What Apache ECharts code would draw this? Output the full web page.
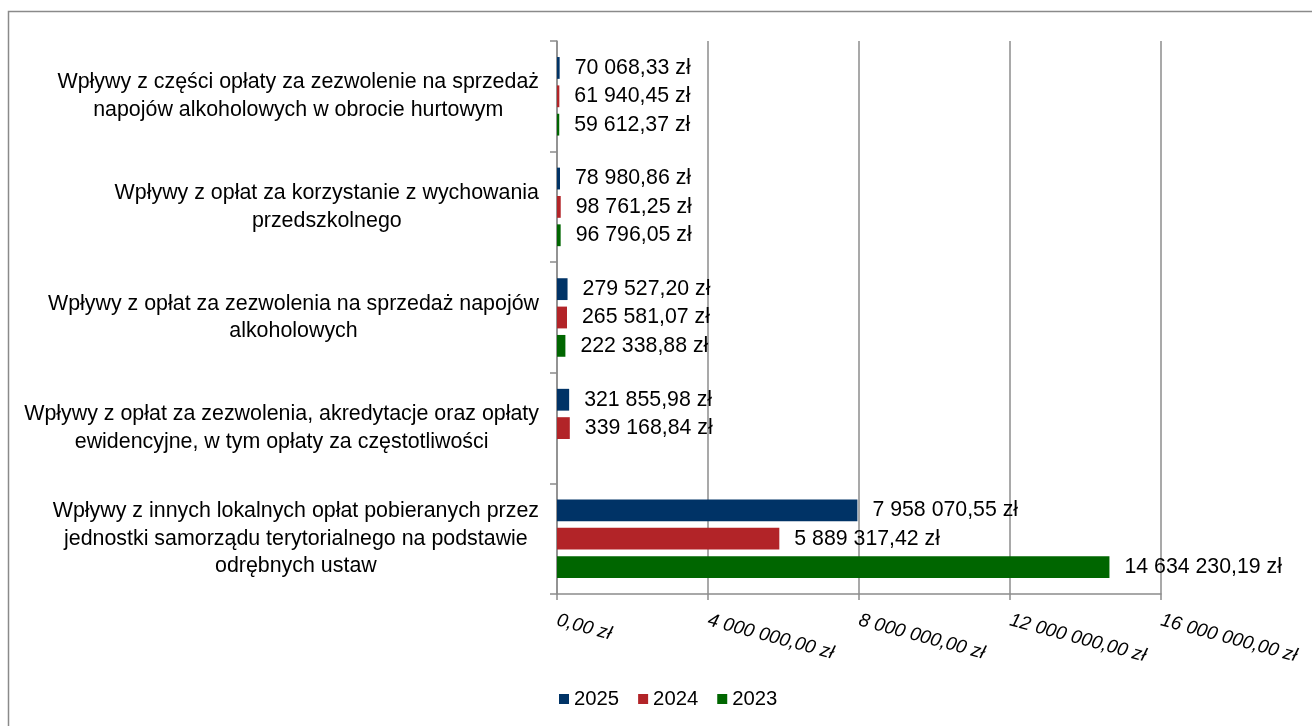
<!DOCTYPE html>
<html>
<head>
    <meta charset="utf-8">
    <title>wplywy</title>
    <script src="https://cdn.jsdelivr.net/npm/echarts@6/dist/echarts.min.js"></script>
</head>
<body style="margin:0;background:#fff">

<div id="main" style="width: 1312px;height:726px;"></div>

<script type="text/javascript">
    // categories (top to bottom), each label split into lines as in the original
    var categories = [
        ['Wpływy z części opłaty za zezwolenie na sprzedaż', 'napojów alkoholowych w obrocie hurtowym'],
        ['Wpływy z opłat za korzystanie z wychowania', 'przedszkolnego'],
        ['Wpływy z opłat za zezwolenia na sprzedaż napojów', 'alkoholowych'],
        ['Wpływy z opłat za zezwolenia, akredytacje oraz opłaty', 'ewidencyjne, w tym opłaty za częstotliwości'],
        ['Wpływy z innych lokalnych opłat pobieranych przez', 'jednostki samorządu terytorialnego na podstawie', 'odrębnych ustaw']
    ];
    var years = ['2025', '2024', '2023'];
    var colors = ['#003366', '#b22428', '#006600'];

    var data2025 = [70068.33, 78980.86, 279527.20, 321855.98, 7958070.55];
    var data2024 = [61940.45, 98761.25, 265581.07, 339168.84, 5889317.42];
    var data2023 = [59612.37, 96796.05, 222338.88, null, 14634230.19];

    var axisMax = 16000000;
    var axisStep = 4000000;

    var font = "'Liberation Sans', Arial, sans-serif";

    // 1234567.8 -> "1 234 567,80 zł"
    function zl(v) {
        var parts = Number(v).toFixed(2).split('.');
        var intPart = parts[0].replace(/\B(?=(\d{3})+(?!\d))/g, ' ');
        return intPart + ',' + parts[1] + ' zł';
    }

    var myChart = echarts.init(document.getElementById('main'));

    var allData = [data2025, data2024, data2023];
    var series = [];
    for (var i = 0; i < years.length; i++) {
        series.push({
            name: years[i],
            type: 'bar',
            data: allData[i],
            barCategoryGap: '29%',
            barGap: '30%',
            itemStyle: {color: colors[i]},
            label: {
                show: true,
                position: 'right',
                distance: 15,
                color: '#000',
                fontFamily: font,
                fontSize: 21.3,
                formatter: function (p) {
                    return p.value == null ? '' : zl(p.value);
                }
            }
        });
    }

    var option = {
        animation: false,
        backgroundColor: '#fff',
        graphic: [{
            type: 'rect',
            shape: {x: 8.5, y: 11.5, width: 1400, height: 800},
            style: {fill: 'none', stroke: '#8a8a8a', lineWidth: 1.5},
            silent: true
        }],
        legend: {
            data: years,
            top: 684,
            left: 554,
            icon: 'rect',
            itemWidth: 10,
            itemHeight: 10,
            itemGap: 19,
            textStyle: {fontFamily: font, fontSize: 20.3, color: '#000'}
        },
        grid: {
            left: 557,
            right: 151,
            top: 41,
            bottom: 132
        },
        xAxis: {
            type: 'value',
            min: 0,
            max: axisMax,
            interval: axisStep,
            axisLine: {show: true, lineStyle: {color: '#8c8c8c', width: 1.5}},
            axisTick: {show: true, length: 6, lineStyle: {color: '#8c8c8c', width: 1.5}},
            splitLine: {show: true, lineStyle: {color: '#8c8c8c', width: 1.5}},
            axisLabel: {
                rotate: -15,
                margin: 26,
                fontFamily: font,
                fontSize: 19,
                fontStyle: 'italic',
                color: '#000',
                formatter: function (v) { return zl(v); }
            }
        },
        yAxis: {
            type: 'category',
            inverse: true,
            data: categories.map(function (c) { return c.join('\n'); }),
            axisLine: {show: true, lineStyle: {color: '#8c8c8c', width: 1.5}},
            axisTick: {show: true, length: 7, lineStyle: {color: '#8c8c8c', width: 1.5}},
            axisLabel: {
                margin: 18,
                align: 'right',
                fontFamily: font,
                fontSize: 21.4,
                color: '#000',
                formatter: function (v) {
                    return v.split('\n').map(function (l) { return '{c|' + l + '}'; }).join('\n');
                },
                rich: {
                    c: {align: 'center', fontFamily: font, fontSize: 21.4, color: '#000', lineHeight: 27.5}
                }
            }
        },
        series: series
    };

    myChart.setOption(option);
</script>
</body>
</html>
